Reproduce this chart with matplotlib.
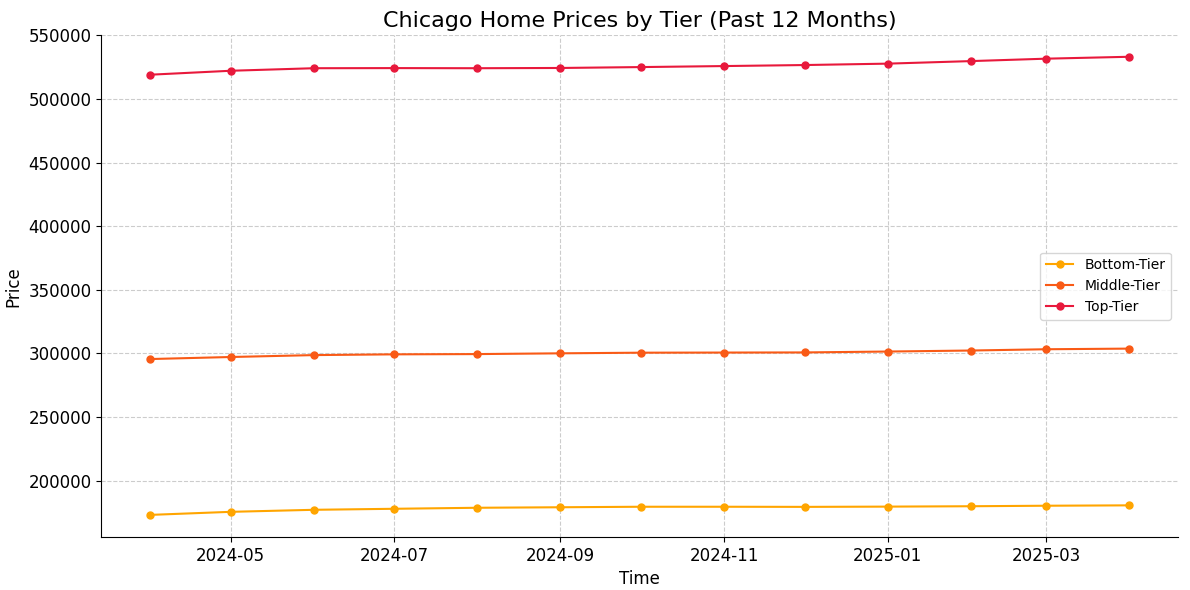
import matplotlib
matplotlib.use("Agg")
import matplotlib.pyplot as plt
import pandas as pd

dates = pd.date_range("2024-04-01", "2025-04-01", freq="MS")
bottom_tier = [173100, 175500, 177100, 177900, 178700, 179100, 179500,
               179500, 179400, 179600, 179900, 180300, 180600]
middle_tier = [295600, 297200, 298700, 299300, 299500, 300100, 300600,
               300700, 300800, 301500, 302300, 303300, 303800]
top_tier = [519100, 522200, 524200, 524300, 524200, 524400, 525100,
            525900, 526700, 527800, 529800, 531700, 533200]

fig, ax = plt.subplots(figsize=(11.9, 5.9), dpi=100)
ax.plot(dates, bottom_tier, marker="o", ms=5, color="#FFA500", label="Bottom-Tier")
ax.plot(dates, middle_tier, marker="o", ms=5, color="#F95A16", label="Middle-Tier")
ax.plot(dates, top_tier, marker="o", ms=5, color="#E8193C", label="Top-Tier")

ax.set_title("Chicago Home Prices by Tier (Past 12 Months)", fontsize=16)
ax.set_xlabel("Time", fontsize=12)
ax.set_ylabel("Price", fontsize=12)
ax.tick_params(labelsize=12)
ax.set_ylim(155800, 550000)
ax.grid(True, linestyle="--", color="#cccccc")
ax.spines["top"].set_visible(False)
ax.spines["right"].set_visible(False)
ax.legend(loc="center right")
fig.subplots_adjust(left=0.085, right=0.99, top=0.94, bottom=0.09)
fig.savefig("out.png")
